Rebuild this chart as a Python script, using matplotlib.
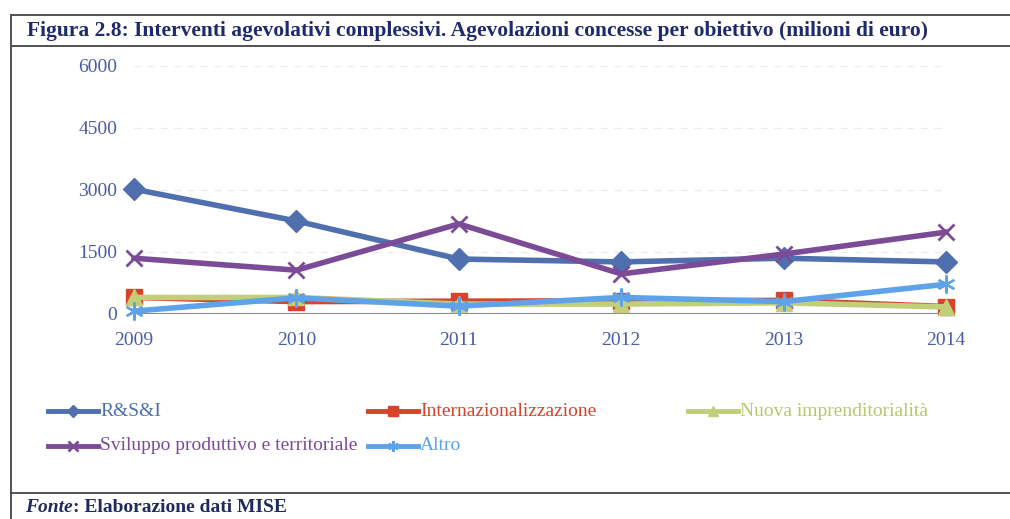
import matplotlib
matplotlib.use("Agg")
import matplotlib.pyplot as plt
from matplotlib.lines import Line2D

years = [2009, 2010, 2011, 2012, 2013, 2014]
rsi = [3020, 2250, 1330, 1260, 1350, 1260]
internaz = [400, 300, 310, 320, 330, 180]
nuova = [400, 400, 240, 240, 270, 170]
sviluppo = [1350, 1060, 2180, 970, 1450, 1980]
altro = [70, 390, 190, 400, 300, 720]
yticks = [0, 1500, 3000, 4500, 6000]

title = "Figura 2.8: Interventi agevolativi complessivi. Agevolazioni concesse per obiettivo (milioni di euro)"
labels = ["R&S&I", "Internazionalizzazione", "Nuova imprenditorialità",
          "Sviluppo produttivo e territoriale", "Altro"]

c_rsi = "#4f6fae"
c_int = "#d8432c"
c_nuo = "#c2cf7a"
c_svi = "#7b4b98"
c_alt = "#5ea2ea"
tick_c = "#4a5ca8"

plt.rcParams['font.family'] = ['Liberation Serif', 'DejaVu Serif']

fig = plt.figure(figsize=(10.10, 5.19), dpi=100)
W, H = 1010, 519

def fx(px):
    return px / W

def fy(py):
    return 1 - py / H

# frame lines
frame_c = "#444444"
fig.add_artist(Line2D([fx(12), 1.0], [fy(15), fy(15)], color=frame_c, lw=1.3))
fig.add_artist(Line2D([fx(12), 1.0], [fy(46), fy(46)], color=frame_c, lw=1.3))
fig.add_artist(Line2D([fx(11), fx(11)], [fy(15), 0.0], color=frame_c, lw=1.3))
fig.add_artist(Line2D([fx(11), 1.0], [fy(493), fy(493)], color=frame_c, lw=1.3))

fig.text(fx(27), fy(31), title, fontsize=15.5, fontweight='bold', color="#1f2a6e",
         ha='left', va='center')

renderer = fig.canvas.get_renderer()
t1 = fig.text(fx(25), fy(507), "Fonte", fontsize=14, fontweight='bold', style='italic',
              color="#1f2a5e", ha='left', va='center')
bb = t1.get_window_extent(renderer=renderer)
fig.text(bb.x1 / W, fy(507), ": Elaborazione dati MISE", fontsize=14,
         fontweight='bold', color="#1f2a5e", ha='left', va='center')

ax = fig.add_axes([fx(134), fy(314), fx(946) - fx(134), fy(66) - fy(314)])
ax.set_xlim(years[0], years[-1])
ax.set_ylim(0, 6000)
for s in ax.spines.values():
    s.set_visible(False)
ax.axhline(0, color="#8a8a8a", lw=1.5, zorder=1)
for t in yticks[1:]:
    ax.axhline(t, color="#e6eaf3", lw=0.8, ls=(0, (6, 6)), zorder=0)

ax.set_yticks(yticks)
ax.set_yticklabels([str(t) for t in yticks])
ax.set_xticks(years)
ax.set_xticklabels([str(y) for y in years])
ax.tick_params(axis='both', length=0, labelsize=14, labelcolor=tick_c)
ax.tick_params(axis='y', pad=12)
ax.tick_params(axis='x', pad=13)

lw = 4.0
series = [
    (rsi, c_rsi, dict(marker='D', markersize=11)),
    (internaz, c_int, dict(marker='s', markersize=12)),
    (nuova, c_nuo, dict(marker='^', markersize=12)),
    (sviluppo, c_svi, dict(marker='x', markersize=12, markeredgewidth=2)),
    (altro, c_alt, dict(marker=(6, 2, 0), markersize=13, markeredgewidth=1.6)),
]
for i, (vals, col, mk) in enumerate(series):
    ax.plot(years, vals, color=col, lw=lw, clip_on=False, zorder=3 + i,
            markerfacecolor=col, markeredgecolor=col, **mk)

# legend (manual placement)
leg_pos = [(48, 411), (368, 411), (688, 411), (48, 446), (368, 446)]
text_cols = [c_rsi, c_int, "#b8c86a", c_svi, c_alt]
for (px, py), lab, tc, (vals, col, mk) in zip(leg_pos, labels, text_cols, series):
    x0, x1 = fx(px), fx(px + 50)
    yy = fy(py)
    fig.add_artist(Line2D([x0, x1], [yy, yy], color=col, lw=3.5))
    mk2 = dict(mk)
    mk2['markersize'] = mk['markersize'] * 0.6
    fig.add_artist(Line2D([(x0 + x1) / 2], [yy], color=col, markerfacecolor=col,
                          markeredgecolor=col, **mk2))
    fig.text(fx(px + 52), yy, lab, fontsize=14, color=tc, ha='left', va='center')

fig.savefig("out.png", dpi=100)
